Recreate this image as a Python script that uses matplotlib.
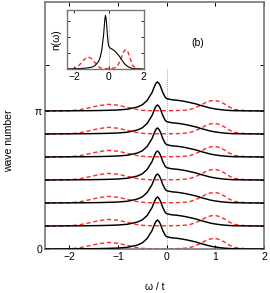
import matplotlib
matplotlib.use("Agg")
import matplotlib.pyplot as plt
import numpy as np

plt.rcParams['font.family'] = ['Liberation Sans', 'DejaVu Sans']
plt.rcParams['font.size'] = 7.5

# frequency grid (omega / t)
omega = [-2.5, -2.2, -2.0, -1.8, -1.6, -1.4, -1.2, -1.0, -0.8, -0.6, -0.5,
         -0.4, -0.3, -0.25, -0.22, -0.19, -0.16, -0.13, -0.08, -0.03, 0.0,
         0.1, 0.2, 0.3, 0.4, 0.5, 0.6, 0.7, 0.8, 0.9, 1.0, 1.1, 1.2, 1.3,
         1.4, 1.6, 1.8, 2.0]

# solid black spectrum
black = [0.0, 0.002, 0.003, 0.004, 0.006, 0.009, 0.014, 0.022, 0.04, 0.09, 0.14,
         0.24, 0.42, 0.56, 0.63, 0.66, 0.63, 0.57, 0.42, 0.31, 0.28,
         0.255, 0.245, 0.23, 0.21, 0.185, 0.16, 0.125, 0.095, 0.065, 0.045, 0.03, 0.018, 0.01,
         0.005, 0.002, 0.001, 0.0]

# red dashed spectrum
red = [0.0, 0.0, 0.005, 0.025, 0.07, 0.12, 0.15, 0.13, 0.08, 0.03, 0.015,
       0.008, 0.005, 0.005, 0.005, 0.005, 0.005, 0.005, 0.005, 0.005, 0.005,
       0.005, 0.008, 0.012, 0.02, 0.04, 0.08, 0.13, 0.19, 0.23, 0.24, 0.21, 0.15, 0.08,
       0.035, 0.008, 0.002, 0.0]

# wave numbers (row offsets)
k_values = [0, np.pi / 6, 2 * np.pi / 6, 3 * np.pi / 6, 4 * np.pi / 6, 5 * np.pi / 6, np.pi]

# inset: n(omega)
n_black = black
n_red = red

RED = "#ff2a2a"
SPINE = "#777777"

fig = plt.figure(figsize=(2.7, 2.93), dpi=100)
ax = fig.add_axes([45 / 270, 1 - 249 / 293, 219 / 270, 247 / 293])

om = np.array(omega)
for k in k_values:
    ax.plot(om, np.array(red) + k, color=RED, lw=1.0, dashes=(3, 2), zorder=2)
    ax.plot(om, np.array(black) + k, color="black", lw=1.05, zorder=3)

ax.plot([0, 0], [0, 4.12], color="#888888", lw=0.6, ls=(0, (1, 1.5)), zorder=1)

ax.set_xlim(-2.5, 2.0)
ax.set_ylim(0, 5.62)
ax.set_xticks([-2, -1, 0, 1, 2])
ax.set_xticklabels(["\u22122", "\u22121", "0", "1", "2"])
yt = list(k_values) + [4 * np.pi / 3]
ax.set_yticks(yt)
ax.set_yticklabels(["0", "", "", "", "", "", "\u03c0", ""])
ax.tick_params(direction="in", length=3, width=0.7, top=True, right=True, pad=2,
               labelsize=7.5)
for s in ax.spines.values():
    s.set_color(SPINE)
    s.set_linewidth(1.2)

fig.text(155 / 270, 1 - 287 / 293, "\u03c9 / t", ha="center", va="center", fontsize=7.5)
fig.text(9 / 270, 1 - 141 / 293, "wave number", ha="center", va="center",
         rotation=90, fontsize=7.5)
ax.text(198 / 270, 1 - 43 / 293, "(b)", transform=fig.transFigure,
        ha="center", va="center", fontsize=7.5)

# inset
axi = fig.add_axes([67 / 270, 1 - 69 / 293, 77 / 270, 59 / 293])
axi.plot(om, n_red, color=RED, lw=1.0, dashes=(3, 2))
axi.plot(om, n_black, color="black", lw=0.8)
axi.axvline(0, color="#999999", lw=0.6, ls=(0, (1, 1.5)), zorder=0)
axi.set_xlim(-2.4, 2.02)
axi.set_ylim(0, 0.73)
axi.set_xticks([-2, 0, 2])
axi.set_xticklabels(["\u22122", "0", "2"])
axi.set_yticks([0, 0.2, 0.4, 0.6])
axi.set_yticklabels([])
axi.tick_params(direction="in", length=2, width=0.6, top=True, right=True, pad=2,
                labelsize=7.5)
axi.set_ylabel("n(\u03c9)", fontsize=7.5, labelpad=2)
for s in axi.spines.values():
    s.set_color(SPINE)
    s.set_linewidth(1.0)

fig.savefig("out.png", dpi=100)
